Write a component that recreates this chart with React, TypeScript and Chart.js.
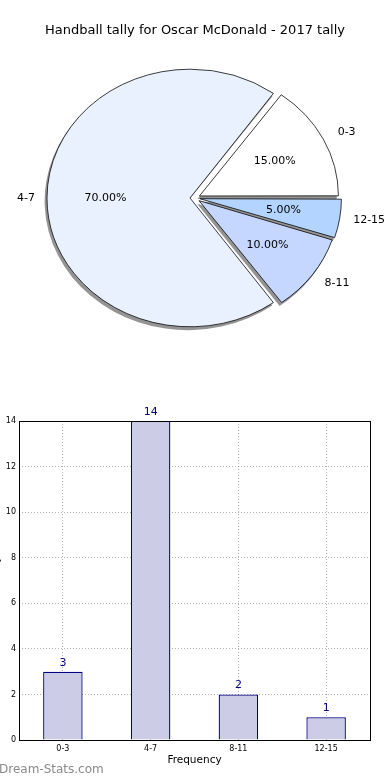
import React, { useEffect, useRef } from 'react';
import { Chart, registerables } from 'chart.js';

Chart.register(...registerables);

const categories = ['0-3', '4-7', '8-11', '12-15'];
const counts = [3, 14, 2, 1];
const pieColors = ['#FFFFFF', '#EAF1FE', '#C5D7FF', '#B3D4FF'];
const yTickMax = 14;
const yTickStep = 2;
const titleText = 'Handball tally for Oscar McDonald - 2017 tally';
const xTitle = 'Frequency';
const yTitle = 'Games Played';
const watermark = 'Dream-Stats.com';

const FONT = "'DejaVu Sans', sans-serif";
const R_LABEL = 141;
const SY = 127 / 141;
const EXPLODE = 5;
// Chart.js translates an arc by offset / 4
const ARC_OFFSET = EXPLODE * 4;

// pie drawn clockwise from 3 o'clock in Chart.js; reverse to mimic counter-clockwise order
const pieOrder = [3, 2, 1, 0];
const total = counts.reduce((a, b) => a + b, 0);

const ellipsePlugin = {
  id: 'ellipsePie',
  beforeDatasetsDraw(chart: any) {
    const arcs = chart.getDatasetMeta(0).data;
    const ctx = chart.ctx;
    ctx.save();
    if (!arcs.length) return;
    const { x, y } = arcs[0];
    ctx.translate(x, y);
    ctx.scale(1, SY);
    ctx.translate(-x, -y);
    ctx.save();
    ctx.translate(-2, 3 / SY);
    ctx.fillStyle = 'rgba(0,0,0,0.42)';
    arcs.forEach((a: any) => {
      const mid = (a.startAngle + a.endAngle) / 2;
      const o = (a.options.offset || 0) / 4;
      const ox = Math.cos(mid) * o;
      const oy = Math.sin(mid) * o;
      const fix = 1 - Math.sin(Math.min(Math.PI, a.circumference));
      const r = a.outerRadius + o * fix + (a.options.borderWidth || 0) / 2;
      ctx.beginPath();
      ctx.moveTo(a.x + ox, a.y + oy);
      ctx.arc(a.x + ox, a.y + oy, r, a.startAngle, a.endAngle);
      ctx.closePath();
      ctx.fill();
    });
    ctx.restore();
  },
  afterDatasetsDraw(chart: any) {
    const ctx = chart.ctx;
    ctx.restore();
    const arcs = chart.getDatasetMeta(0).data;
    ctx.save();
    ctx.font = `11px ${FONT}`;
    ctx.fillStyle = '#000';
    ctx.textBaseline = 'middle';
    arcs.forEach((a: any, k: number) => {
      const idx = pieOrder[k];
      const mid = (a.startAngle + a.endAngle) / 2;
      const c = Math.cos(mid);
      const s = Math.sin(mid);
      const bx = a.x + c * EXPLODE;
      const by = a.y + s * EXPLODE * SY;
      ctx.textAlign = c > 0 ? 'left' : 'right';
      ctx.fillText(categories[idx], bx + 1.1 * R_LABEL * c, by + 1.1 * R_LABEL * SY * s);
      ctx.textAlign = 'center';
      const pct = ((counts[idx] / total) * 100).toFixed(2) + '%';
      ctx.fillText(pct, bx + 0.6 * R_LABEL * c, by + 0.6 * R_LABEL * SY * s);
    });
    ctx.restore();
  },
};

const barPlugin = {
  id: 'barExtras',
  afterDatasetsDraw(chart: any) {
    const ctx = chart.ctx;
    const bars = chart.getDatasetMeta(0).data;
    ctx.save();
    ctx.font = `11px ${FONT}`;
    ctx.fillStyle = '#000080';
    ctx.textAlign = 'center';
    ctx.textBaseline = 'middle';
    bars.forEach((b: any, i: number) => {
      ctx.fillText(String(counts[i]), b.x, b.y - 9);
    });
    ctx.restore();
  },
  afterDraw(chart: any) {
    const ctx = chart.ctx;
    const { left, top, right, bottom } = chart.chartArea;
    ctx.save();
    ctx.strokeStyle = '#000';
    ctx.lineWidth = 1;
    ctx.strokeRect(Math.round(left) + 0.5, Math.round(top) + 0.5, Math.round(right - left), Math.round(bottom - top));
    // y axis title (mostly cut off at the left edge)
    ctx.translate(-4, (top + bottom) / 2);
    ctx.rotate(-Math.PI / 2);
    ctx.font = `10.5px ${FONT}`;
    ctx.fillStyle = '#000';
    ctx.textAlign = 'center';
    ctx.textBaseline = 'middle';
    ctx.fillText(yTitle, 0, 0);
    ctx.restore();
    ctx.save();
    ctx.font = `12px ${FONT}`;
    ctx.fillStyle = '#8a8a8a';
    ctx.textAlign = 'left';
    ctx.textBaseline = 'middle';
    ctx.fillText(watermark, -1, 370);
    ctx.restore();
  },
};

export default function App() {
  const pieRef = useRef<HTMLCanvasElement>(null);
  const barRef = useRef<HTMLCanvasElement>(null);

  useEffect(() => {
    const pieLabels = pieOrder.map((i) => categories[i]);
    const pieValues = pieOrder.map((i) => counts[i]);
    const pieBg = pieOrder.map((i) => pieColors[i]);

    const pie = new Chart(pieRef.current as HTMLCanvasElement, {
      type: 'pie',
      data: {
        labels: pieLabels,
        datasets: [
          {
            data: pieValues,
            backgroundColor: pieBg,
            borderColor: '#000',
            borderWidth: 0.8,
            offset: ARC_OFFSET,
            hoverOffset: 0,
            rotation: 90,
            radius: 138,
          } as any,
        ],
      },
      options: {
        animation: false,
        responsive: false,
        events: [],
        rotation: 90,
        radius: 138,
        layout: { padding: { top: 0, bottom: 51.6, left: 0, right: 0 } },
        plugins: {
          legend: { display: false },
          tooltip: { enabled: false },
          title: {
            display: true,
            text: titleText,
            color: '#000',
            font: { family: FONT, size: 13, weight: 'normal' },
            padding: { top: 23, bottom: 9 },
          },
        },
      } as any,
      plugins: [ellipsePlugin],
    });

    const gridColor = 'rgba(0,0,0,0.3)';
    const bar = new Chart(barRef.current as HTMLCanvasElement, {
      type: 'bar',
      data: {
        labels: categories,
        datasets: [
          {
            data: counts,
            backgroundColor: '#CCCCE6',
            borderColor: '#000080',
            borderWidth: 1.3,
            barPercentage: 0.45,
            categoryPercentage: 1,
          },
        ],
      },
      options: {
        animation: false,
        responsive: false,
        events: [],
        layout: { padding: { top: 21, right: 20, left: 0, bottom: 13.5 } },
        plugins: { legend: { display: false }, tooltip: { enabled: false } },
        scales: {
          x: {
            z: 1,
            grid: { offset: false, color: gridColor, drawTicks: false, lineWidth: 1 },
            border: { display: false, dash: [1, 2] },
            ticks: { font: { family: FONT, size: 8 }, color: '#000', padding: 4, maxRotation: 0 },
            title: {
              display: true,
              text: xTitle,
              color: '#000',
              font: { family: FONT, size: 10.5 },
              padding: { top: 1, bottom: 0 },
            },
            afterFit: (s: any) => {
              s.height = 26.5;
            },
          },
          y: {
            z: 1,
            min: 0,
            max: yTickMax,
            grid: { color: gridColor, drawTicks: false, lineWidth: 1 },
            border: { display: false, dash: [1, 2] },
            ticks: { stepSize: yTickStep, font: { family: FONT, size: 8 }, color: '#000', padding: 3 },
            afterFit: (s: any) => {
              s.width = 19;
            },
          },
        },
      } as any,
      plugins: [barPlugin],
    });

    return () => {
      pie.destroy();
      bar.destroy();
    };
  }, []);

  return (
    <div style={{ position: 'absolute', left: 0, top: 0, width: 390, height: 780, background: '#fff' }}>
      <canvas ref={pieRef} width={390} height={400} style={{ display: 'block', width: 390, height: 400 }} />
      <canvas ref={barRef} width={390} height={380} style={{ display: 'block', width: 390, height: 380 }} />
    </div>
  );
}
